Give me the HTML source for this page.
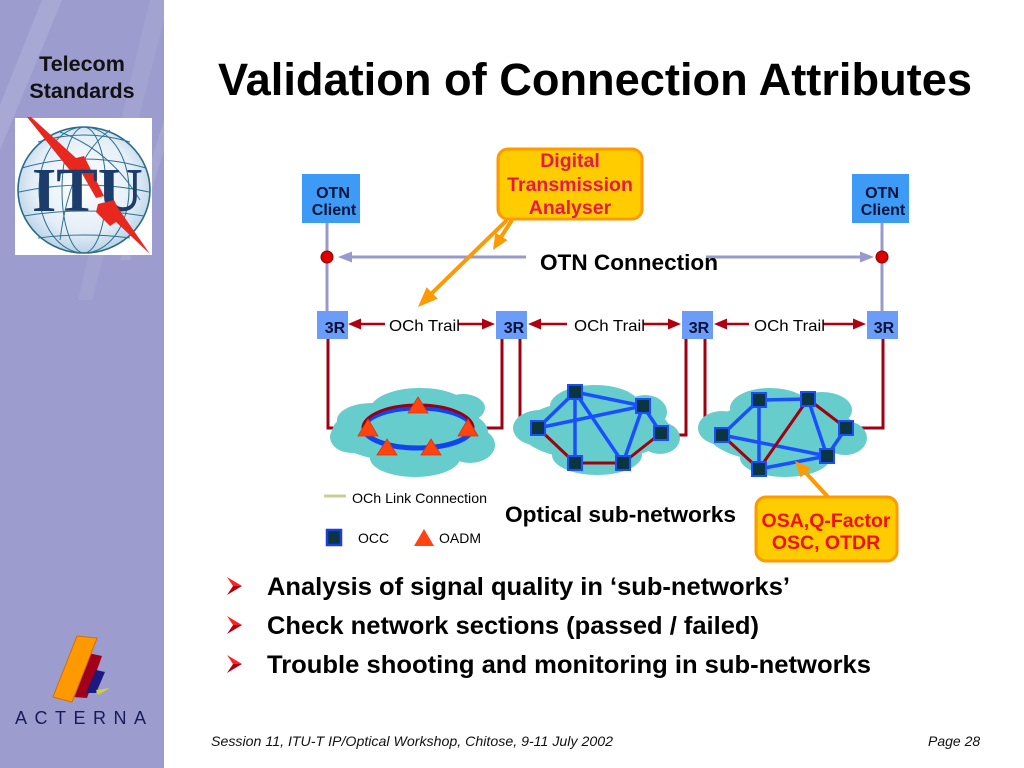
<!DOCTYPE html>
<html>
<head>
<meta charset="utf-8">
<style>
html,body{margin:0;padding:0;background:#fff;}
svg{display:block;}
text{font-family:"Liberation Sans",Arial,sans-serif;}
</style>
</head>
<body>
<svg width="1024" height="768" viewBox="0 0 1024 768" xmlns="http://www.w3.org/2000/svg">
  <defs>
    <radialGradient id="globe" cx="50%" cy="45%" r="55%">
      <stop offset="0%" stop-color="#ffffff"/>
      <stop offset="70%" stop-color="#e4eef7"/>
      <stop offset="100%" stop-color="#b9d3e6"/>
    </radialGradient>
  </defs>

  <!-- Sidebar -->
  <rect x="0" y="0" width="164" height="768" fill="#9c9ccf"/>
  <polygon points="42,0 62,0 0,150 0,105" fill="#ffffff" opacity="0.12"/>
  <polygon points="150,0 164,0 164,20 92,300 78,300" fill="#ffffff" opacity="0.08"/>
  <polygon points="164,120 164,150 130,260 120,260" fill="#ffffff" opacity="0.10"/>

  <text x="82" y="71" font-size="21.5" font-weight="bold" fill="#111" text-anchor="middle">Telecom</text>
  <text x="82" y="98" font-size="21.5" font-weight="bold" fill="#111" text-anchor="middle">Standards</text>

  <!-- ITU logo -->
  <rect x="15" y="118" width="137" height="137" fill="#ffffff"/>
  <ellipse cx="84" cy="190" rx="66" ry="63" fill="url(#globe)" stroke="#2a6a8a" stroke-width="1.6"/>
  <g fill="none" stroke="#2f7090" stroke-width="1">
    <ellipse cx="84" cy="190" rx="22" ry="63"/>
    <ellipse cx="84" cy="190" rx="45" ry="63"/>
    <path d="M22 168 Q84 150 146 168"/>
    <path d="M19 192 Q84 178 149 192"/>
    <path d="M24 216 Q84 206 144 216"/>
    <path d="M38 142 Q84 128 130 142"/>
    <path d="M38 238 Q84 232 130 238"/>
    <path d="M60 132 Q110 150 140 200"/>
    <path d="M110 130 Q70 160 60 240"/>
  </g>
  <!-- bolt upper part (behind letters) -->
  <polygon points="27,117 31,117 76,158 84,156 104,196 96,198 80,170 72,173" fill="#e8281e"/>
  <text x="32" y="211" font-size="62" font-weight="bold" fill="#1c3c6c" textLength="111" lengthAdjust="spacingAndGlyphs" style="font-family:'Liberation Serif',serif">ITU</text>
  <!-- bolt lower zigzag (in front) -->
  <polygon points="98,204 114,200 118,208 150,254 116,222 110,226 96,212" fill="#e8281e"/>

  <!-- Acterna logo -->
  <polygon points="88,653 102,656 87,698 73,697" fill="#a0001a"/>
  <polygon points="96,670 105,672 96,693 86,693" fill="#1a1a80"/>
  <polygon points="96,690 110,688 98,695" fill="#c8d040"/>
  <polygon points="77,636 97,638 72,702 53,697" fill="#ff9900" stroke="#d07000" stroke-width="1"/>
  <text x="15" y="724" font-size="18" fill="#1a1a5a" letter-spacing="7.5">ACTERNA</text>

  <!-- Title -->
  <text x="218" y="95" font-size="45" font-weight="bold" fill="#000" textLength="754" lengthAdjust="spacingAndGlyphs">Validation of Connection Attributes</text>

  <!-- OTN Clients -->
  <rect x="302" y="174" width="58" height="49" fill="#3d9bf5"/>
  <text x="333" y="198" font-size="16" font-weight="bold" fill="#06123a" text-anchor="middle">OTN</text>
  <text x="334" y="215" font-size="16" font-weight="bold" fill="#06123a" text-anchor="middle">Client</text>
  <rect x="852" y="174" width="57" height="49" fill="#3d9bf5"/>
  <text x="882" y="198" font-size="16" font-weight="bold" fill="#06123a" text-anchor="middle">OTN</text>
  <text x="883" y="215" font-size="16" font-weight="bold" fill="#06123a" text-anchor="middle">Client</text>

  <!-- vertical lavender lines -->
  <line x1="327" y1="223" x2="327" y2="312" stroke="#9999cc" stroke-width="3"/>
  <line x1="882" y1="223" x2="882" y2="312" stroke="#9999cc" stroke-width="3"/>

  <!-- OTN connection arrows -->
  <line x1="350" y1="257" x2="526" y2="257" stroke="#9999cc" stroke-width="3"/>
  <polygon points="338,257 352,251.5 352,262.5" fill="#9999cc"/>
  <line x1="706" y1="257" x2="862" y2="257" stroke="#9999cc" stroke-width="3"/>
  <polygon points="874,257 860,251.5 860,262.5" fill="#9999cc"/>
  <circle cx="327" cy="257" r="6" fill="#dd0000" stroke="#880000" stroke-width="1"/>
  <circle cx="882" cy="257" r="6" fill="#dd0000" stroke="#880000" stroke-width="1"/>
  <text x="540" y="270" font-size="22" font-weight="bold" fill="#000" textLength="178" lengthAdjust="spacingAndGlyphs">OTN Connection</text>

  <!-- Digital Transmission Analyser -->
  <rect x="498" y="149" width="144" height="70" rx="10" fill="#ffcc00" stroke="#ff9900" stroke-width="3"/>
  <text x="570" y="167" font-size="19.5" font-weight="bold" fill="#e6194a" text-anchor="middle">Digital</text>
  <text x="570" y="191" font-size="19.5" font-weight="bold" fill="#e6194a" text-anchor="middle">Transmission</text>
  <text x="570" y="214" font-size="19.5" font-weight="bold" fill="#e6194a" text-anchor="middle">Analyser</text>
  <line x1="507" y1="220" x2="432" y2="293" stroke="#ff9900" stroke-width="4"/>
  <polygon points="418,307 437.8,298.6 426.6,287.2" fill="#ff9900"/>
  <line x1="512" y1="220" x2="501" y2="237" stroke="#ff9900" stroke-width="4"/>
  <polygon points="493,250 507.4,240.1 495.4,232.7" fill="#ff9900"/>

  <!-- Red vertical/horizontal links -->
  <g fill="none" stroke="#a00010" stroke-width="3">
    <polyline points="328,339 328,428 364,428"/>
    <polyline points="502,339 502,428 472,428"/>
    <polyline points="520,339 520,428 538,428"/>
    <polyline points="686,339 686,435 661,435"/>
    <polyline points="705,339 705,435 722,435"/>
    <polyline points="883,339 883,428 846,428"/>
  </g>

  <!-- 3R boxes -->
  <g fill="#6b9cf8">
    <rect x="317" y="311" width="31" height="28"/>
    <rect x="496" y="311" width="31" height="28"/>
    <rect x="682" y="311" width="31" height="28"/>
    <rect x="867" y="311" width="31" height="28"/>
  </g>
  <g font-size="16" font-weight="bold" fill="#06123a" text-anchor="middle">
    <text x="335" y="333">3R</text>
    <text x="514" y="333">3R</text>
    <text x="699" y="333">3R</text>
    <text x="884" y="333">3R</text>
  </g>

  <!-- OCh Trail arrows -->
  <g stroke="#b00010" stroke-width="2.5">
    <line x1="358" y1="324" x2="385" y2="324"/>
    <line x1="458" y1="324" x2="484" y2="324"/>
    <line x1="538" y1="324" x2="567" y2="324"/>
    <line x1="643" y1="324" x2="670" y2="324"/>
    <line x1="724" y1="324" x2="749" y2="324"/>
    <line x1="823" y1="324" x2="855" y2="324"/>
  </g>
  <g fill="#b00010">
    <polygon points="348,324 361,318.5 361,329.5"/>
    <polygon points="495,324 482,318.5 482,329.5"/>
    <polygon points="528,324 541,318.5 541,329.5"/>
    <polygon points="681,324 668,318.5 668,329.5"/>
    <polygon points="714,324 727,318.5 727,329.5"/>
    <polygon points="866,324 853,318.5 853,329.5"/>
  </g>
  <g font-size="16" fill="#000">
    <text x="389" y="331" textLength="71" lengthAdjust="spacingAndGlyphs">OCh Trail</text>
    <text x="574" y="331" textLength="71" lengthAdjust="spacingAndGlyphs">OCh Trail</text>
    <text x="754" y="331" textLength="71" lengthAdjust="spacingAndGlyphs">OCh Trail</text>
  </g>

  <!-- Clouds -->
  <g fill="#66cccc">
    <ellipse cx="410" cy="432" rx="78" ry="30"/>
    <ellipse cx="420" cy="410" rx="50" ry="22"/>
    <ellipse cx="463" cy="408" rx="22" ry="14"/>
    <ellipse cx="372" cy="420" rx="35" ry="17"/>
    <ellipse cx="415" cy="458" rx="45" ry="19"/>
    <ellipse cx="470" cy="445" rx="25" ry="18"/>
    <ellipse cx="352" cy="437" rx="22" ry="16"/>

    <ellipse cx="595" cy="430" rx="75" ry="30"/>
    <ellipse cx="595" cy="406" rx="45" ry="21"/>
    <ellipse cx="645" cy="412" rx="22" ry="17"/>
    <ellipse cx="540" cy="428" rx="27" ry="18"/>
    <ellipse cx="597" cy="455" rx="45" ry="20"/>
    <ellipse cx="660" cy="438" rx="20" ry="16"/>

    <ellipse cx="782" cy="432" rx="75" ry="30"/>
    <ellipse cx="770" cy="408" rx="40" ry="20"/>
    <ellipse cx="822" cy="410" rx="30" ry="18"/>
    <ellipse cx="722" cy="428" rx="24" ry="17"/>
    <ellipse cx="785" cy="458" rx="45" ry="19"/>
    <ellipse cx="845" cy="438" rx="22" ry="17"/>
  </g>

  <!-- Ring network -->
  <ellipse cx="418" cy="428" rx="54" ry="20" fill="none" stroke="#1144ee" stroke-width="5"/>
  <path d="M363 428 A55 23 0 0 1 473 428" fill="none" stroke="#990011" stroke-width="3"/>
  <g fill="#ff4411" stroke="#dd3300" stroke-width="0.8">
    <polygon points="418,397 428,413 408,413"/>
    <polygon points="368,419 378,436 358,436"/>
    <polygon points="468,419 478,436 458,436"/>
    <polygon points="387,439 397,455 377,455"/>
    <polygon points="431,439 441,455 421,455"/>
  </g>

  <!-- Mesh 2 edges -->
  <g stroke="#1a4fff" stroke-width="3.5">
    <line x1="575" y1="392" x2="643" y2="406"/>
    <line x1="575" y1="392" x2="575" y2="463"/>
    <line x1="575" y1="392" x2="623" y2="463"/>
    <line x1="538" y1="428" x2="575" y2="392"/>
    <line x1="538" y1="428" x2="643" y2="406"/>
    <line x1="643" y1="406" x2="661" y2="433"/>
    <line x1="643" y1="406" x2="623" y2="463"/>
  </g>
  <g stroke="#a00010" stroke-width="3">
    <line x1="538" y1="428" x2="575" y2="463"/>
    <line x1="575" y1="463" x2="623" y2="463"/>
    <line x1="623" y1="463" x2="661" y2="433"/>
  </g>

  <!-- Mesh 3 edges -->
  <g stroke="#1a4fff" stroke-width="3.5">
    <line x1="722" y1="435" x2="759" y2="400"/>
    <line x1="759" y1="400" x2="808" y2="399"/>
    <line x1="759" y1="400" x2="759" y2="469"/>
    <line x1="722" y1="435" x2="827" y2="456"/>
    <line x1="808" y1="399" x2="827" y2="456"/>
    <line x1="759" y1="469" x2="827" y2="456"/>
    <line x1="846" y1="428" x2="827" y2="456"/>
  </g>
  <g stroke="#a00010" stroke-width="3">
    <line x1="722" y1="435" x2="759" y2="469"/>
    <line x1="759" y1="469" x2="808" y2="399"/>
    <line x1="808" y1="399" x2="846" y2="428"/>
  </g>

  <!-- Nodes -->
  <g fill="#0b3540" stroke="#1a4fff" stroke-width="2">
    <rect x="568" y="385" width="14" height="14"/>
    <rect x="636" y="399" width="14" height="14"/>
    <rect x="531" y="421" width="14" height="14"/>
    <rect x="654" y="426" width="14" height="14"/>
    <rect x="568" y="456" width="14" height="14"/>
    <rect x="616" y="456" width="14" height="14"/>

    <rect x="715" y="428" width="14" height="14"/>
    <rect x="752" y="393" width="14" height="14"/>
    <rect x="801" y="392" width="14" height="14"/>
    <rect x="839" y="421" width="14" height="14"/>
    <rect x="820" y="449" width="14" height="14"/>
    <rect x="752" y="462" width="14" height="14"/>
  </g>

  <!-- Legend -->
  <line x1="324" y1="496" x2="346" y2="496" stroke="#cccc99" stroke-width="3"/>
  <text x="352" y="503" font-size="14" fill="#000" textLength="135" lengthAdjust="spacingAndGlyphs">OCh Link Connection</text>
  <rect x="327" y="530" width="14" height="15" fill="#0b3540" stroke="#1a3fe0" stroke-width="2.5"/>
  <text x="358" y="543" font-size="14" fill="#000">OCC</text>
  <polygon points="424,529 434,546 414,546" fill="#ff4411"/>
  <text x="439" y="543" font-size="14" fill="#000">OADM</text>

  <text x="505" y="522" font-size="22.5" font-weight="bold" fill="#000" textLength="231" lengthAdjust="spacingAndGlyphs">Optical sub-networks</text>

  <!-- OSA box -->
  <line x1="828" y1="497" x2="806" y2="473" stroke="#ff9900" stroke-width="4"/>
  <polygon points="795,461 811,468.1 800.6,477.5" fill="#ff9900"/>
  <rect x="756" y="497" width="141" height="64" rx="10" fill="#ffcc00" stroke="#ff9900" stroke-width="3"/>
  <text x="826" y="527" font-size="19.5" font-weight="bold" fill="#ee1111" text-anchor="middle">OSA,Q-Factor</text>
  <text x="826" y="549" font-size="19.5" font-weight="bold" fill="#ee1111" text-anchor="middle">OSC, OTDR</text>

  <!-- Bullets -->
  <g>
    <polygon points="242,586 227,577 233,586" fill="#ff2020"/>
    <polygon points="242,586 233,586 227,595" fill="#b00010"/>
    <polygon points="242,625 227,616 233,625" fill="#ff2020"/>
    <polygon points="242,625 233,625 227,634" fill="#b00010"/>
    <polygon points="242,664 227,655 233,664" fill="#ff2020"/>
    <polygon points="242,664 233,664 227,673" fill="#b00010"/>
  </g>
  <g font-size="25" font-weight="bold" fill="#000">
    <text x="267" y="595" textLength="523" lengthAdjust="spacingAndGlyphs">Analysis of signal quality in ‘sub-networks’</text>
    <text x="267" y="634" textLength="492" lengthAdjust="spacingAndGlyphs">Check network sections (passed / failed)</text>
    <text x="267" y="673" textLength="604" lengthAdjust="spacingAndGlyphs">Trouble shooting and monitoring in sub-networks</text>
  </g>

  <!-- Footer -->
  <text x="211" y="746" font-size="14" font-style="italic" fill="#111" textLength="402" lengthAdjust="spacingAndGlyphs">Session 11, ITU-T IP/Optical Workshop, Chitose, 9-11 July 2002</text>
  <text x="928" y="746" font-size="14" font-style="italic" fill="#111">Page 28</text>
</svg>
</body>
</html>
